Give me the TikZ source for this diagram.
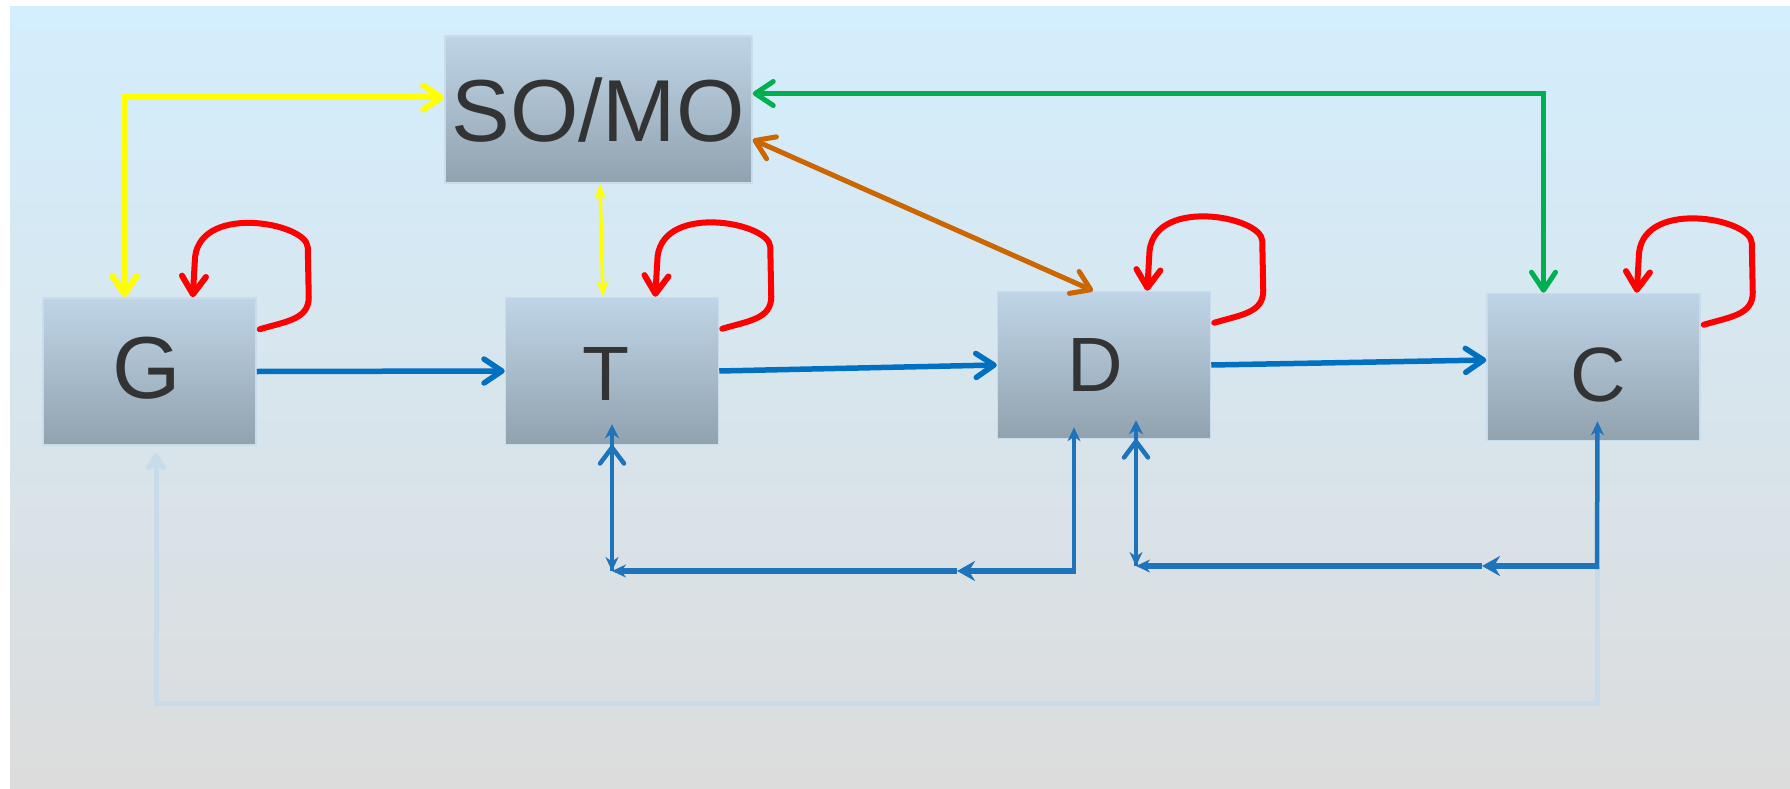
\documentclass[tikz,border=0pt]{standalone}
\usepackage{fontspec}
\setmainfont{Liberation Sans}
\usetikzlibrary{arrows.meta}
\definecolor{bgtop}{HTML}{D3EEFD}
\definecolor{bgbot}{HTML}{DCDCDC}
\definecolor{boxtop}{HTML}{BFD5E7}
\definecolor{boxbot}{HTML}{91A2AF}
\definecolor{boxedge}{HTML}{C9DCEC}
\definecolor{txt}{HTML}{333333}
\definecolor{flow}{HTML}{0070C0}
\definecolor{back}{HTML}{1E74BB}
\definecolor{faint}{HTML}{C8DBEA}
\definecolor{grn}{HTML}{00B050}
\definecolor{orng}{HTML}{CC6600}
\definecolor{ylw}{HTML}{FFFF00}

\begin{document}
\begin{tikzpicture}[
  x=1pt, y=-1pt,
  openv/.tip={Straight Barb[length=18pt,width=24pt,round]},
  smallhead/.tip={Stealth[length=14pt,width=13pt]},
  stage/.style={draw=boxedge, line width=1.5pt, top color=boxtop, bottom color=boxbot,
    minimum width=213pt, minimum height=147pt, inner sep=0pt},
  word/.style={inner sep=0pt, text=txt, font=\fontsize{77}{77}\selectfont},
  selfloop/.style={red, line width=6pt, line cap=round, line join=round, -{openv}},
  fwd/.style={flow, line width=5.5pt, -{openv}},
  fb/.style={back, line width=4.5pt},
]
\useasboundingbox (0,0) rectangle (1790,789);
\fill[top color=bgtop, bottom color=bgbot] (10,7) rectangle (1790,789);

\node[stage, minimum width=307pt] (SO) at (598.5,109.5) {};
\node[stage] (G) at (149.5,371.5) {};
\node[stage] (T) at (612,371) {};
\node[stage] (D) at (1104,365) {};
\node[stage] (C) at (1593.5,367) {};
\node[word, font=\fontsize{88}{88}\selectfont] (SOname) at (598,110) {SO/MO};
\node[word, font=\fontsize{88}{88}\selectfont] (Gname) at (147,368.5) {G};
\node[word] (Tname) at (606,374.5) {T};
\node[word] (Dname) at (1095.5,365.5) {D};
\node[word] (Cname) at (1598.5,375) {C};

\coordinate (tl) at (612,571);
\coordinate (tm) at (957,571);
\coordinate (tr) at (1074,571);
\coordinate (dl) at (1136,566);
\coordinate (dm) at (1482,566);
\coordinate (dr) at (1597,566);
\coordinate (fl) at (156,703);
\coordinate (fr) at (1597,703);

% faint return to G
\draw[faint, line width=5pt, -{Stealth[length=22pt,width=26pt,round]}]
  (dr) -- (fr) -- (fl) -- ([shift={(6.5,7)}]G.south);

\foreach \n in {G,T,D,C}
  \draw[selfloop] ([shift={(3,32)}]\n.north east) .. controls +(27,-8) and +(0,22) ..
    ([shift={(52,0)}]\n.north east) -- ([shift={(51,-50)}]\n.north east)
    .. controls +(-1,-25) and +(0,-60) .. ([shift={(-62,-35)}]\n.north east)
    -- ([xshift=-64pt]\n.north east);

\draw[fwd] (G.east) -- (T.west);
\draw[fwd] (T.east) -- (D.west);
\draw[fwd] (D.east) -- ([yshift=7pt]C.west);

\draw[ylw, line width=6pt, {openv}-{openv}] ([yshift=12pt]SO.west) -| ([xshift=-25pt]G.north);
\draw[ylw, line width=3.5pt, {Stealth[length=16pt,width=12pt]}-{Stealth[length=16pt,width=12pt]}]
  ([xshift=1.5pt]SO.south) -- ([xshift=-9pt]T.north);
\draw[grn, line width=5pt, {openv}-{openv}] ([yshift=16pt]SO.east) -| ([xshift=-50pt]C.north);
\draw[orng, line width=5pt, {openv}-{openv}] ([yshift=-30pt]SO.east) -- ([xshift=-11pt]D.north);

% T <-> D
\draw[fb, {Stealth[length=14pt,width=14pt]}-{smallhead}] ([yshift=21pt]T.south) -- (tl);
\draw[fb, -{Straight Barb[length=16pt,width=24pt,round]}] (tl) -- (T.south);
\draw[fb, line width=6pt, -{Stealth[length=18pt,width=20pt,inset=6pt]}] (tr) -- (tm);
\draw[fb, line width=6pt, -{smallhead}] (tm) -- (tl);
\draw[fb, -{smallhead}] ([yshift=-3pt]tr) -- ([shift={(-30,-12)}]D.south);

% D <-> C
\draw[fb, {Stealth[length=14pt,width=14pt]}-{smallhead}] ([shift={(32,-19)}]D.south) -- (dl);
\draw[fb, -{Straight Barb[length=16pt,width=24pt,round]}] (dl) -- ([xshift=32pt]D.south);
\draw[fb, line width=6pt, -{Stealth[length=18pt,width=20pt,inset=6pt]}] (dr) -- (dm);
\draw[fb, line width=6pt, -{smallhead}] (dm) -- (dl);
\draw[fb, -{smallhead}] ([yshift=-3pt]dr) -- ([shift={(4,-20)}]C.south);

\end{tikzpicture}
\end{document}
